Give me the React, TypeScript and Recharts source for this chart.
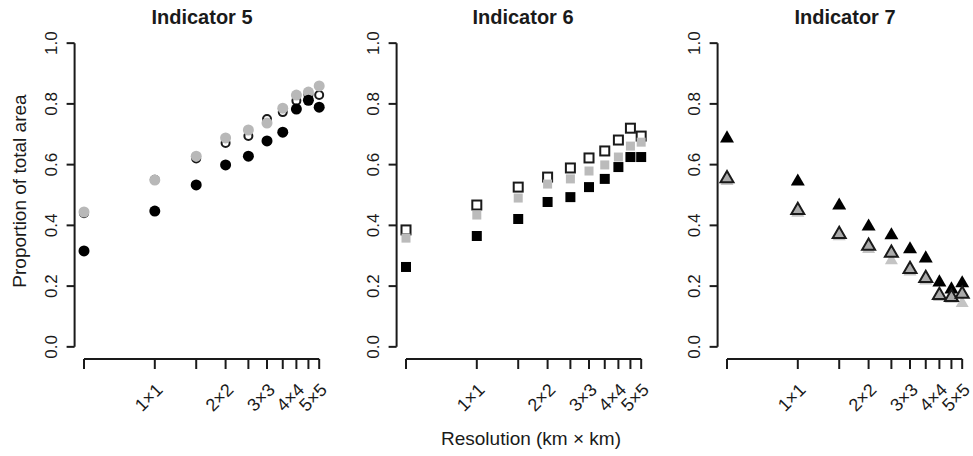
import { ScatterChart, Scatter, XAxis, YAxis, ReferenceLine } from "recharts";

const resolutions = [0.5, 1, 1.5, 2, 2.5, 3, 3.5, 4, 4.5, 5];
const xTickLabels = ["", "1×1", "", "2×2", "", "3×3", "", "4×4", "", "5×5"];
const yTicks = [0, 0.2, 0.4, 0.6, 0.8, 1];

// Indicator 5 (circles)
const ind5Open = [0.44, 0.55, 0.62, 0.671, 0.694, 0.75, 0.773, 0.81, 0.83, 0.829];
const ind5Grey = [0.444, 0.549, 0.628, 0.688, 0.714, 0.737, 0.786, 0.829, 0.839, 0.859];
const ind5Black = [0.316, 0.447, 0.533, 0.599, 0.628, 0.678, 0.707, 0.783, 0.812, 0.789];

// Indicator 6 (squares)
const ind6Open = [0.385, 0.467, 0.526, 0.559, 0.589, 0.622, 0.645, 0.681, 0.72, 0.694];
const ind6Grey = [0.358, 0.434, 0.49, 0.536, 0.553, 0.579, 0.599, 0.625, 0.661, 0.674];
const ind6Black = [0.263, 0.365, 0.421, 0.477, 0.493, 0.526, 0.553, 0.592, 0.625, 0.625];

// Indicator 7 (triangles)
const ind7Light = [0.55, 0.445, 0.368, 0.326, 0.289, 0.252, 0.222, 0.168, 0.162, 0.148];
const ind7Black = [0.691, 0.549, 0.47, 0.401, 0.372, 0.326, 0.296, 0.217, 0.194, 0.214];
const ind7Outline = [0.559, 0.454, 0.375, 0.336, 0.313, 0.26, 0.23, 0.174, 0.168, 0.178];

const K = Math.pow(10, 0.04);
const X_MIN = resolutions[0] / K;
const X_MAX = resolutions[resolutions.length - 1] * K;
const Y_MIN = -0.04;
const Y_MAX = 1.04;
const INK = "#1a1a1a";
const FONT = "'Liberation Sans', Arial, sans-serif";

const toPoints = (vals: number[]) => resolutions.map((x, i) => ({ x, y: vals[i] }));

const circle = (r: number, fill: string, stroke = "none", sw = 0) => (p: any) => (
  <circle cx={p.cx} cy={p.cy} r={r} fill={fill} stroke={stroke} strokeWidth={sw} />
);
const square = (s: number, fill: string, stroke = "none", sw = 0) => (p: any) => (
  <rect x={p.cx - s / 2} y={p.cy - s / 2} width={s} height={s} fill={fill} stroke={stroke} strokeWidth={sw} />
);
const triangle = (w: number, fill: string, stroke = "none", sw = 0) => (p: any) => {
  const h = w * 0.866;
  const pts = `${p.cx},${p.cy - h * 0.55} ${p.cx - w / 2},${p.cy + h * 0.45} ${p.cx + w / 2},${p.cy + h * 0.45}`;
  return <polygon points={pts} fill={fill} stroke={stroke} strokeWidth={sw} strokeLinejoin="miter" />;
};

const XTick = (props: any) => {
  const { x, y, payload } = props;
  const idx = resolutions.indexOf(payload.value);
  const label = idx >= 0 ? xTickLabels[idx] : "";
  if (!label) return <g />;
  const ax = x + 9;
  const ay = y + 22;
  return (
    <text x={ax} y={ay} textAnchor="end" fontSize={18} fill={INK} fontFamily={FONT} transform={`rotate(-45 ${ax} ${ay})`}>
      {label}
    </text>
  );
};

const YTick = (props: any) => {
  const { x, y, payload } = props;
  const tx = x - 10;
  return (
    <text x={tx} y={y} textAnchor="middle" fontSize={17} fill={INK} fontFamily={FONT} transform={`rotate(-90 ${tx} ${y})`}>
      {payload.value.toFixed(1)}
    </text>
  );
};

type SeriesDef = { values: number[]; shape: (p: any) => any };

const Panel = ({ left, marginLeft, series }: { left: number; marginLeft: number; series: SeriesDef[] }) => (
  <div style={{ position: "absolute", left, top: 0 }}>
    <ScatterChart width={marginLeft + 60 + 254 + 5} height={456} margin={{ top: 31, right: 5, bottom: 37, left: marginLeft }}>
      <XAxis
        dataKey="x"
        type="number"
        scale="log"
        domain={[X_MIN, X_MAX]}
        allowDataOverflow
        ticks={resolutions}
        interval={0}
        height={60}
        tickSize={10}
        tickMargin={0}
        axisLine={false}
        tickLine={{ stroke: INK, strokeWidth: 2 }}
        tick={XTick}
      />
      <YAxis
        dataKey="y"
        type="number"
        domain={[Y_MIN, Y_MAX]}
        allowDataOverflow
        ticks={yTicks}
        interval={0}
        width={60}
        tickSize={8}
        tickMargin={0}
        axisLine={false}
        tickLine={{ stroke: INK, strokeWidth: 2 }}
        tick={YTick}
      />
      <ReferenceLine
        segment={[{ x: resolutions[0], y: Y_MIN }, { x: resolutions[resolutions.length - 1], y: Y_MIN }]}
        stroke={INK}
        strokeWidth={2}
        ifOverflow="visible"
      />
      <ReferenceLine
        segment={[{ x: X_MIN, y: 0 }, { x: X_MIN, y: 1 }]}
        stroke={INK}
        strokeWidth={2}
        ifOverflow="visible"
      />
      {series.map((s, i) => (
        <Scatter key={i} data={toPoints(s.values)} shape={s.shape} isAnimationActive={false} />
      ))}
    </ScatterChart>
  </div>
);

const titleStyle = (cx: number): any => ({
  position: "absolute",
  left: cx - 80,
  width: 160,
  top: 6,
  textAlign: "center",
  fontFamily: FONT,
  fontWeight: "bold",
  fontSize: 20,
  color: INK,
});

export default function App() {
  return (
    <div style={{ position: "absolute", left: 0, top: 0, width: 973, height: 456, background: "#fff", overflow: "hidden" }}>
      <Panel
        left={0}
        marginLeft={14.6}
        series={[
          { values: ind5Open, shape: circle(4, "#fff", INK, 2) },
          { values: ind5Grey, shape: circle(5.5, "#b8b8b8") },
          { values: ind5Black, shape: circle(5.5, "#000") },
        ]}
      />
      <Panel
        left={322}
        marginLeft={14.6}
        series={[
          { values: ind6Open, shape: square(9, "#fff", INK, 2) },
          { values: ind6Grey, shape: square(9, "#bbbbbb") },
          { values: ind6Black, shape: square(10, "#000") },
        ]}
      />
      <Panel
        left={644}
        marginLeft={13.6}
        series={[
          { values: ind7Light, shape: triangle(13, "#c4c4c4") },
          { values: ind7Black, shape: triangle(14, "#000") },
          { values: ind7Outline, shape: triangle(13, "#aaaaaa", INK, 2) },
        ]}
      />
      <div style={titleStyle(202)}>Indicator 5</div>
      <div style={titleStyle(523)}>Indicator 6</div>
      <div style={titleStyle(845)}>Indicator 7</div>
      <div
        style={{
          position: "absolute",
          left: 20 - 120,
          top: 191 - 12,
          width: 240,
          height: 24,
          lineHeight: "24px",
          textAlign: "center",
          transform: "rotate(-90deg)",
          fontFamily: FONT,
          fontSize: 19,
          color: INK,
        }}
      >
        Proportion of total area
      </div>
      <div
        style={{
          position: "absolute",
          left: 531 - 150,
          top: 428,
          width: 300,
          textAlign: "center",
          fontFamily: FONT,
          fontSize: 19,
          color: INK,
        }}
      >
        Resolution (km × km)
      </div>
    </div>
  );
}
